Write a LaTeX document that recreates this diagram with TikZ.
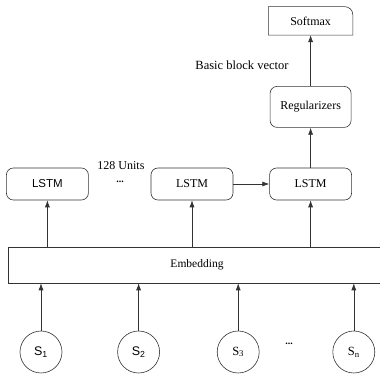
\documentclass[tikz,border=0pt]{standalone}
\usepackage{fontspec}
\setmainfont{Liberation Serif}
\setsansfont{Liberation Sans}
\usetikzlibrary{arrows.meta,positioning,calc}

\begin{document}
\begin{tikzpicture}[x=1pt, y=1pt,
    font=\fontsize{12}{14}\selectfont,
    block/.style={rectangle, draw=black!80, rounded corners=7pt, line width=0.6pt, minimum width=82pt, minimum height=32pt, inner sep=0pt},
    token/.style={circle, draw=black!80, line width=0.6pt, minimum size=42pt, inner sep=0pt},
    flow/.style={-{Latex[length=7pt,width=5pt]}, line width=0.6pt, draw=black!80}
]
\useasboundingbox (0,0) rectangle (380,377);

% LSTM row
\node[block] (lstm2) at (192,193) {LSTM};
\node[block, font=\sffamily\fontsize{11.5}{13}\selectfont, left=62pt of lstm2] (lstm1) {LSTM};
\node[block, right=36pt of lstm2] (lstm3) {LSTM};
\node[inner sep=0pt] (units) at (121,211) {128 Units};
\node[inner sep=0pt, font=\bfseries\fontsize{10}{12}\selectfont] (udots) at (120,195) {...};

% output side
\node[block, minimum width=81pt, minimum height=41pt, above=40pt of lstm3] (reg) {Regularizers};
\node[minimum width=84pt, minimum height=28pt, inner sep=0pt, above=51pt of reg] (softmax) {Softmax};
\draw[black!80, line width=0.6pt] (softmax.south west) -- (softmax.north west) -- ([xshift=-8pt]softmax.north east)
    arc[start angle=90, end angle=0, radius=8pt] -- (softmax.south east) -- cycle;
\node[font=\fontsize{12.5}{14}\selectfont] (bbv) at (242,312) {Basic block vector};

% embedding and inputs
\node[draw=black!80, line width=0.6pt, minimum width=378pt, minimum height=36pt, inner sep=0pt, font=\fontsize{11.5}{13}\selectfont] (emb) at (197,112) {Embedding};
\node[token, font=\sffamily\fontsize{12.5}{14}\selectfont] (s1) at (41,25) {S\textsubscript{1}};
\node[token, font=\sffamily\fontsize{12.5}{14}\selectfont, right=55pt of s1] (s2) {S\textsubscript{2}};
\node[token, font=\fontsize{12.5}{14}\selectfont, right=57pt of s2] (s3) {S\textsubscript{3}};
\node[token, font=\fontsize{12.5}{14}\selectfont, right=73pt of s3] (sn) {S\textsubscript{n}};
\node[font=\bfseries\fontsize{10}{12}\selectfont] (sdots) at (289,33) {...};

\foreach \n in {s1,s2,s3,sn}
    \draw[flow] (\n.north) -- (\n.north |- emb.south);
\foreach \n in {lstm1,lstm2,lstm3}
    \draw[flow] (\n.south |- emb.north) -- (\n.south);
\draw[flow] (lstm2) -- (lstm3);
\draw[flow] (lstm3) -- (reg);
\draw[flow] (reg) -- (softmax);

\end{tikzpicture}
\end{document}
